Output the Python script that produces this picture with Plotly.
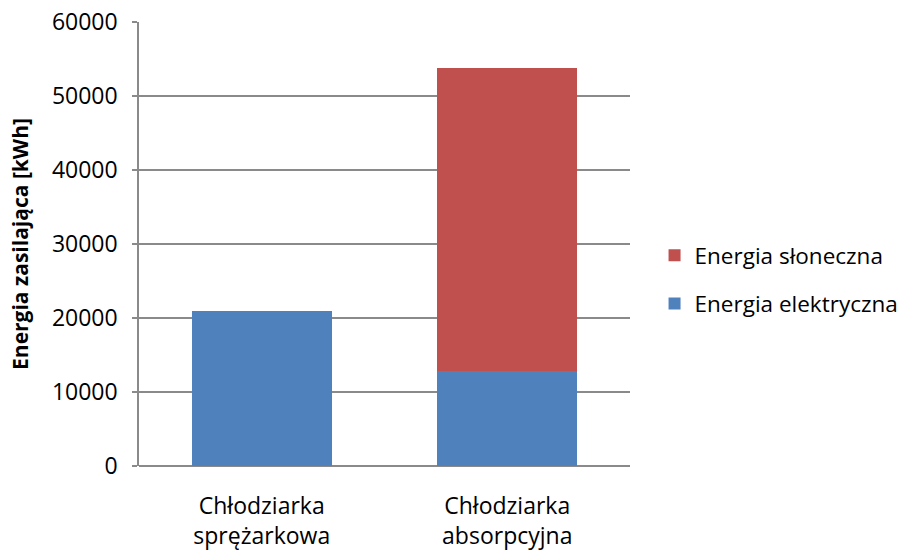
import plotly.graph_objects as go

categories = ["Chłodziarka<br>sprężarkowa", "Chłodziarka<br>absorpcyjna"]
energia_elektryczna = [20900, 12800]
energia_sloneczna = [0, 41000]
y_ticks = [0, 10000, 20000, 30000, 40000, 50000, 60000]

FONT = "Open Sans"
GRID = "#8a8a8a"

fig = go.Figure()
fig.add_trace(go.Bar(
    x=categories, y=energia_elektryczna, name="Energia elektryczna",
    marker=dict(color="#4F81BD", line=dict(width=0)), legendgroup="a",
    legendrank=2,
))
fig.add_trace(go.Bar(
    x=categories, y=energia_sloneczna, name="Energia słoneczna",
    marker=dict(color="#C0504D", line=dict(width=0)), legendgroup="b",
    legendrank=1,
))

fig.update_layout(
    barmode="stack",
    bargap=0.43,
    width=907, height=551,
    margin=dict(l=139, r=277, t=22, b=85, pad=0, autoexpand=False),
    plot_bgcolor="white", paper_bgcolor="white",
    font=dict(family=FONT, size=22, color="#000000"),
    showlegend=True,
    legend=dict(
        x=1.050, xanchor="left", y=0.42, yanchor="middle",
        traceorder="grouped", tracegroupgap=16,
        font=dict(family=FONT, size=22.5, color="#000000"),
        bgcolor="rgba(0,0,0,0)",
    ),
    xaxis=dict(
        showgrid=False, showline=False, ticks="",
        ticklabelstandoff=24, automargin=False,
        tickfont=dict(family=FONT, size=23),
    ),
    yaxis=dict(
        range=[0, 60000], tickvals=y_ticks,
        tickformat="d",
        showgrid=True, gridcolor=GRID, gridwidth=1.5,
        showline=True, linecolor=GRID, linewidth=1.5,
        ticks="outside", ticklen=5, tickcolor=GRID, tickwidth=1.5,
        ticklabelstandoff=10,
        tickfont=dict(family=FONT, size=23),
        zeroline=True, zerolinecolor=GRID, zerolinewidth=1.5,
        title=dict(text="<b>Energia zasilająca [kWh]</b>", standoff=18,
                   font=dict(family=FONT, size=21)),
        automargin=False,
    ),
)

fig.write_html("out.html")
